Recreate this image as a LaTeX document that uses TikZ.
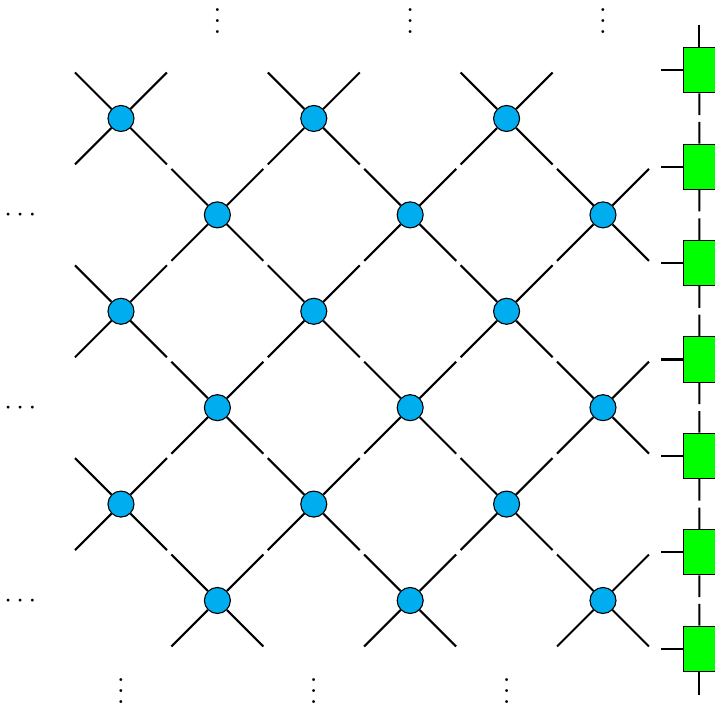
\documentclass[tikz,border=0pt]{standalone}
\usepackage{amsmath}
\usepackage{tikz}
\usetikzlibrary{positioning, calc}
\usepackage{xcolor}
\definecolor{siteblue}{RGB}{0,174,239}
\tikzset{
  site/.style={circle, draw, fill=siteblue, minimum size=0.332cm, inner sep=0pt},
  bath/.style={rectangle, draw, fill=green, minimum width=0.408cm, minimum height=0.577cm, inner sep=0pt},
  leg/.style={line width=0.75pt},
  dots/.style={anchor=base, inner sep=0pt}
}

\begin{document}
\begin{tikzpicture}[x=1.23cm, y=1.23cm]
    \useasboundingbox (-1.255,-1.083) rectangle (6.162,6.229);

    % Lattice sites
    \foreach \i in {0,...,5}
        \foreach \j in {0,...,5} {
            \ifodd\numexpr\i+\j\relax
                \node[site] (s-\i-\j) at (\i,\j) {};
            \fi
        }

    % Bonds between neighbouring sites (broken in the middle)
    \foreach \i in {0,...,4}
        \foreach \j in {0,...,5} {
            \ifodd\numexpr\i+\j\relax
                \pgfmathtruncatemacro\ii{\i+1}
                \pgfmathtruncatemacro\up{\j+1}
                \pgfmathtruncatemacro\dn{\j-1}
                \ifnum\j<5
                    \draw[leg] (s-\i-\j) -- ($(s-\i-\j)!0.477!(s-\ii-\up)$)
                               (s-\ii-\up) -- ($(s-\ii-\up)!0.477!(s-\i-\j)$);
                \fi
                \ifnum\j>0
                    \draw[leg] (s-\i-\j) -- ($(s-\i-\j)!0.477!(s-\ii-\dn)$)
                               (s-\ii-\dn) -- ($(s-\ii-\dn)!0.477!(s-\i-\j)$);
                \fi
            \fi
        }

    % Open legs on the boundary
    \foreach \i in {0,...,5}
        \foreach \j in {0,...,5} {
            \ifodd\numexpr\i+\j\relax
                \foreach \dx/\dy in {1/1, 1/-1, -1/1, -1/-1} {
                    \pgfmathtruncatemacro\inside{(\i+\dx>=0)&&(\i+\dx<=5)&&(\j+\dy>=0)&&(\j+\dy<=5)}
                    \ifnum\inside=0
                        \draw[leg] (s-\i-\j) -- ($(s-\i-\j)+(0.477*\dx,0.477*\dy)$);
                    \fi
                }
            \fi
        }

    % Boundary column
    \foreach \k in {0,...,6}
        \node[bath] (b-\k) at (6,\k-0.5) {};
    \foreach \k [evaluate=\k as \kk using int(\k+1)] in {0,...,5}
        \draw[leg] (b-\k) -- ($(b-\k)!0.464!(b-\kk)$)
                   (b-\kk) -- ($(b-\kk)!0.464!(b-\k)$);
    \draw[leg] (b-6) -- ($(b-6)+(0,0.469)$);
    \draw[leg] (b-0) -- ($(b-0)+(0,-0.48)$);
    \foreach \k in {0,...,6}
        \draw[leg] (b-\k) -- ($(b-\k)+(-0.394,0)$);

    % Continuation dots
    \foreach \x in {1,3,5}
        \node[dots] (top-\x) at ($(\x,6.01)+(0,-4.53pt)$) {$\vdots$};
    \foreach \x in {0,2,4}
        \node[dots] (bot-\x) at ($(\x,-0.9375)+(0,-4.53pt)$) {$\vdots$};
    \foreach \y in {0,2,4}
        \node[dots] (left-\y) at ($(-1.02,\y)+(0,-2.5pt)$) {$\cdots$};

\end{tikzpicture}
\end{document}
